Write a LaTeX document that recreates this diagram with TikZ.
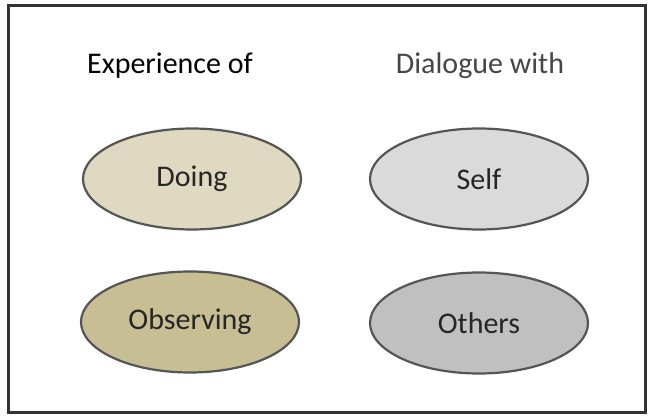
\documentclass[tikz,border=0pt]{standalone}
\usepackage{fontspec}
\setmainfont{Carlito}
\usetikzlibrary{shapes.geometric}
\definecolor{doingfill}{RGB}{222,217,192}
\definecolor{observefill}{RGB}{199,190,148}
\definecolor{selffill}{RGB}{218,218,218}
\definecolor{othersfill}{RGB}{192,192,192}
\definecolor{edgegray}{RGB}{85,85,85}
\definecolor{headgray}{RGB}{70,70,70}
\tikzset{
  x=1pt, y=-1pt,
  oval/.style={ellipse, draw=edgegray, line width=2.2pt, minimum width=218pt, minimum height=101pt,
    inner sep=0pt, font=\fontsize{30}{34}\selectfont, text=black!85},
  heading/.style={font=\fontsize{30}{34}\selectfont, inner sep=0pt},
}
\begin{document}
\begin{tikzpicture}
  \useasboundingbox (0,0) rectangle (651,417);
  \fill[white] (0,0) rectangle (651,417);
  % frame
  \draw[line width=3pt, black!80] (8,6) rectangle (645,412);
  % column headings
  \node[heading, text=black] (exp) at (170,66) {Experience of};
  \node[heading, text=headgray] (dia) at (480,66) {Dialogue with};
  % ovals
  \node[oval, fill=doingfill] (doing) at (192,179) {Doing};
  \node[oval, fill=observefill] (obs) at (190,322) {Observing};
  \node[oval, fill=selffill] (self) at (479,179) {Self};
  \node[oval, fill=othersfill] (others) at (479,323) {Others};
\end{tikzpicture}
\end{document}
